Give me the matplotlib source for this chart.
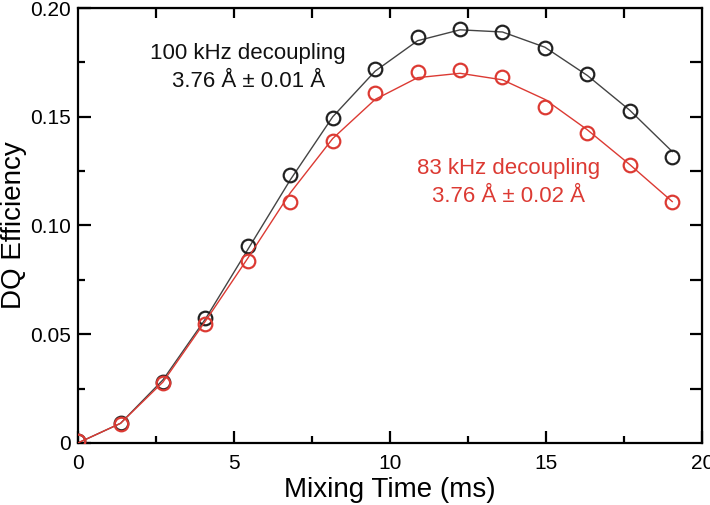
import matplotlib
matplotlib.use("Agg")
import matplotlib.pyplot as plt

plt.rcParams['font.family'] = ['Liberation Sans', 'DejaVu Sans']

# mixing times (ms)
mix_time = [0, 1.36, 2.72, 4.08, 5.44, 6.8, 8.16, 9.52, 10.88, 12.24, 13.6, 14.96, 16.32, 17.68, 19.04]

# 100 kHz decoupling: measured points and fitted curve
dq_100 = [0.001, 0.009, 0.028, 0.0575, 0.0905, 0.123, 0.1495, 0.172, 0.1868, 0.1903, 0.189, 0.1816, 0.1697, 0.1527, 0.1315]
fit_100 = [0.0, 0.009, 0.029, 0.057, 0.089, 0.121, 0.150, 0.171, 0.185, 0.190, 0.189, 0.182, 0.169, 0.153, 0.134]

# 83 kHz decoupling: measured points and fitted curve
dq_83 = [0.001, 0.0087, 0.0276, 0.0547, 0.0837, 0.1108, 0.1389, 0.161, 0.1705, 0.1715, 0.1685, 0.1545, 0.1425, 0.128, 0.1108]
fit_83 = [0.0, 0.009, 0.028, 0.056, 0.085, 0.115, 0.140, 0.158, 0.168, 0.170, 0.167, 0.158, 0.144, 0.128, 0.111]

RED = '#dc3a33'
BLACK = '#222222'

fig = plt.figure(figsize=(7.1, 5.05), dpi=100)
ax = fig.add_axes([0.110, 0.123, 0.879, 0.861])

ax.plot(mix_time, fit_100, color='#444444', lw=1.0, zorder=2)
ax.plot(mix_time, dq_100, 'o', ms=9.8, mfc='none', mec=BLACK, mew=1.6, zorder=3)
ax.plot(mix_time, fit_83, color=RED, lw=1.0, zorder=4)
ax.plot(mix_time, dq_83, 'o', ms=9.8, mfc='none', mec=RED, mew=1.6, zorder=5)

ax.set_xlim(0, 20)
ax.set_ylim(0, 0.20)
ax.set_xticks([0, 5, 10, 15, 20])
ax.set_xticks([2.5, 7.5, 12.5, 17.5], minor=True)
ax.set_yticks([0, 0.05, 0.10, 0.15, 0.20])
ax.set_yticklabels(['0', '0.05', '0.10', '0.15', '0.20'])
ax.set_yticks([0.025, 0.075, 0.125, 0.175], minor=True)

for s in ax.spines.values():
    s.set_linewidth(1.6)
ax.tick_params(which='major', direction='in', length=9, width=1.6, labelsize=15)
ax.tick_params(axis='x', which='major', pad=8)
ax.tick_params(axis='y', which='major', pad=5)
ax.tick_params(which='minor', direction='in', length=5, width=1.6)

# top and right ticks, all the same length, no labels
top = ax.secondary_xaxis('top')
top.set_xticks([2.5, 5, 7.5, 10, 12.5, 15, 17.5])
top.tick_params(direction='in', length=7, width=1.6, labeltop=False)
right = ax.secondary_yaxis('right')
right.set_yticks([0.025, 0.05, 0.075, 0.1, 0.125, 0.15, 0.175])
right.tick_params(direction='in', length=9, width=1.6, labelright=False)

ax.set_xlabel('Mixing Time (ms)', fontsize=20, labelpad=3)
ax.set_ylabel('DQ Efficiency', fontsize=20, va='center')
ax.yaxis.set_label_coords(-0.103, 0.5)

ax.text(5.45, 0.1725, '100 kHz decoupling\n3.76 Å ± 0.01 Å', ha='center', va='center',
        fontsize=16, color='#111111', linespacing=1.45)
ax.text(13.8, 0.1197, '83 kHz decoupling\n3.76 Å ± 0.02 Å', ha='center', va='center',
        fontsize=16, color=RED, linespacing=1.45)

fig.savefig('out.png', dpi=100)
